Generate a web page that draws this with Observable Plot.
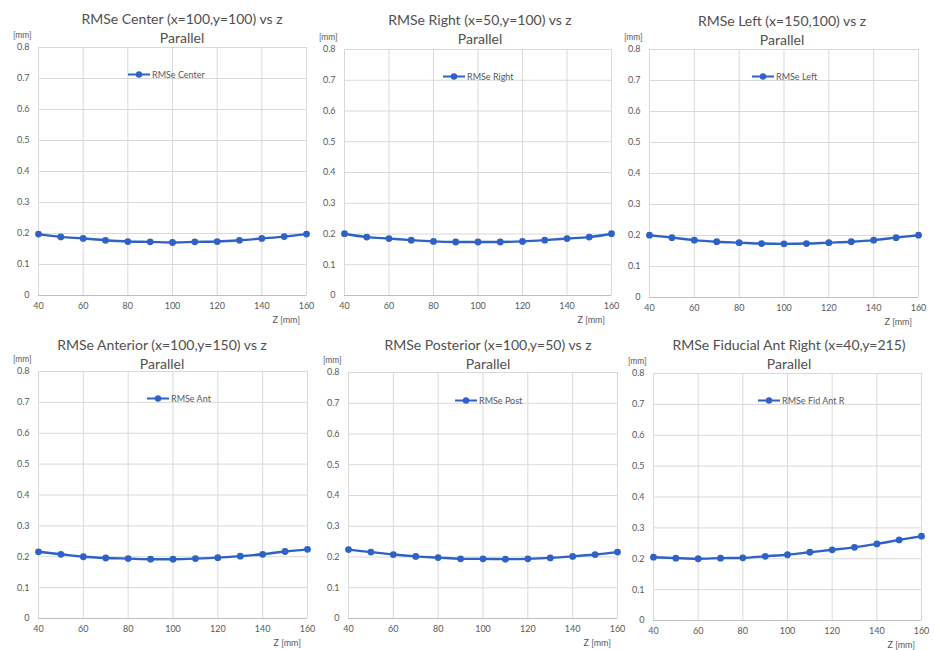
<!DOCTYPE html>
<html>
<head>
<meta charset="utf-8">
<script src="https://cdn.jsdelivr.net/npm/d3@7"></script>
<script src="https://cdn.jsdelivr.net/npm/@observablehq/plot@0.6"></script>
<style>
  html, body { margin: 0; padding: 0; background: #fff; }
  #chart { position: relative; width: 934px; height: 650px; background: #fff; overflow: hidden; font-family: Lato, "Open Sans", sans-serif; color: #595959; }
  .abs { position: absolute; white-space: nowrap; line-height: 1; }
  .title { font-size: 14px; color: #505050; transform: translate(-50%, -50%); }
  .unit { font-size: 8.5px; transform: translateY(-50%); }
  .xlab { font-size: 9px; transform: translate(-100%, -50%); }
  .legend { font-size: 9px; display: flex; align-items: center; transform: translateY(-50%); }
  .legend svg { display: block; margin-right: 2px; }
</style>
</head>
<body>
<div id="chart"></div>
<script>
// ---- data ----
const zValues = [40, 50, 60, 70, 80, 90, 100, 110, 120, 130, 140, 150, 160];
const xTicks = [40, 60, 80, 100, 120, 140, 160];
const yTicks = [0, 0.1, 0.2, 0.3, 0.4, 0.5, 0.6, 0.7, 0.8];

const titleLines = [
  ["RMSe Center (x=100,y=100) vs z", "Parallel"],
  ["RMSe Right (x=50,y=100) vs z", "Parallel"],
  ["RMSe Left (x=150,100) vs z", "Parallel"],
  ["RMSe Anterior (x=100,y=150) vs z", "Parallel"],
  ["RMSe Posterior (x=100,y=50) vs z", "Parallel"],
  ["RMSe Fiducial Ant Right (x=40,y=215)", "Parallel"]
];
const seriesNames = ["RMSe Center", "RMSe Right", "RMSe Left", "RMSe Ant", "RMSe Post", "RMSe Fid Ant R"];

const rmseCenter = [0.198, 0.189, 0.184, 0.178, 0.174, 0.173, 0.171, 0.173, 0.174, 0.178, 0.184, 0.190, 0.198];
const rmseRight  = [0.201, 0.190, 0.185, 0.180, 0.176, 0.174, 0.174, 0.174, 0.176, 0.180, 0.185, 0.190, 0.201];
const rmseLeft   = [0.201, 0.193, 0.185, 0.180, 0.177, 0.174, 0.173, 0.174, 0.177, 0.180, 0.185, 0.193, 0.201];
const rmseAnt    = [0.216, 0.208, 0.200, 0.196, 0.194, 0.192, 0.192, 0.194, 0.197, 0.202, 0.208, 0.217, 0.224];
const rmsePost   = [0.224, 0.216, 0.208, 0.202, 0.198, 0.194, 0.194, 0.193, 0.194, 0.197, 0.202, 0.208, 0.216];
const rmseFidAntR = [0.205, 0.202, 0.200, 0.202, 0.203, 0.208, 0.213, 0.221, 0.229, 0.237, 0.248, 0.261, 0.273];

const seriesValues = [rmseCenter, rmseRight, rmseLeft, rmseAnt, rmsePost, rmseFidAntR];

// ---- layout (plot-area boxes in page pixels) ----
const layout = [
  {box: [38, 47, 306, 295],  title: [182, 19, 38],  legend: [128, 74]},
  {box: [344, 49, 611, 295], title: [480, 20, 39],  legend: [443, 76]},
  {box: [649, 49, 918, 297], title: [782, 21, 40],  legend: [752, 76]},
  {box: [38, 371, 307, 618], title: [162, 345, 364], legend: [147, 398]},
  {box: [348, 372, 617, 618], title: [488, 345, 364], legend: [455, 400]},
  {box: [653, 373, 921, 620], title: [789, 345, 364], legend: [758, 400]}
];

const blue = "#2f62c6";
const chart = document.getElementById("chart");

function add(cls, text, left, top) {
  const d = document.createElement("div");
  d.className = "abs " + cls;
  d.textContent = text;
  d.style.left = left + "px";
  d.style.top = top + "px";
  chart.appendChild(d);
  return d;
}

seriesValues.forEach((vals, i) => {
  const L = layout[i];
  const [bl, bt, br, bb] = L.box;
  const w = br - bl, h = bb - bt;
  const mL = 38, mT = 10, mR = 16, mB = 24;
  const data = zValues.map((z, k) => ({z, v: vals[k]}));

  const svg = Plot.plot({
    width: mL + w + mR,
    height: mT + h + mB,
    marginLeft: mL, marginTop: mT, marginRight: mR, marginBottom: mB,
    style: {background: "transparent", fontFamily: "Lato, 'Open Sans', sans-serif", fontSize: "9px", color: "#595959", overflow: "visible"},
    x: {domain: [40, 160], ticks: xTicks, tickSize: 0, tickPadding: 7, label: null},
    y: {domain: [0, 0.8], ticks: yTicks, tickSize: 0, tickPadding: 9, label: null,
        tickFormat: d => d === 0 ? "0" : d3.format(".1f")(d)},
    marks: [
      Plot.ruleX(xTicks, {stroke: "#d9d9d9", strokeWidth: 1}),
      Plot.ruleY(yTicks, {stroke: "#d9d9d9", strokeWidth: 1}),
      Plot.ruleY([0], {stroke: "#bfbfbf", strokeWidth: 1}),
      Plot.line(data, {x: "z", y: "v", stroke: blue, strokeWidth: 2.4, curve: "catmull-rom"}),
      Plot.dot(data, {x: "z", y: "v", r: 3.4, fill: blue, stroke: "none"})
    ]
  });
  svg.style.position = "absolute";
  svg.style.left = (bl - mL) + "px";
  svg.style.top = (bt - mT) + "px";
  chart.appendChild(svg);

  const [tx, ty1, ty2] = L.title;
  add("title", titleLines[i][0], tx, ty1);
  add("title", titleLines[i][1], tx, ty2);
  add("unit", "[mm]", bl - 25, bt - 12);
  add("xlab", "Z [mm]", br - 6, bb + 24);

  const [lx, ly] = L.legend;
  const lg = document.createElement("div");
  lg.className = "abs legend";
  lg.style.left = lx + "px";
  lg.style.top = ly + "px";
  lg.innerHTML = `<svg width="22" height="8"><line x1="0" y1="4" x2="22" y2="4" stroke="${blue}" stroke-width="2.2"/><circle cx="11" cy="4" r="3.2" fill="${blue}"/></svg>`;
  const sp = document.createElement("span");
  sp.textContent = seriesNames[i];
  lg.appendChild(sp);
  chart.appendChild(lg);
});
</script>
</body>
</html>
